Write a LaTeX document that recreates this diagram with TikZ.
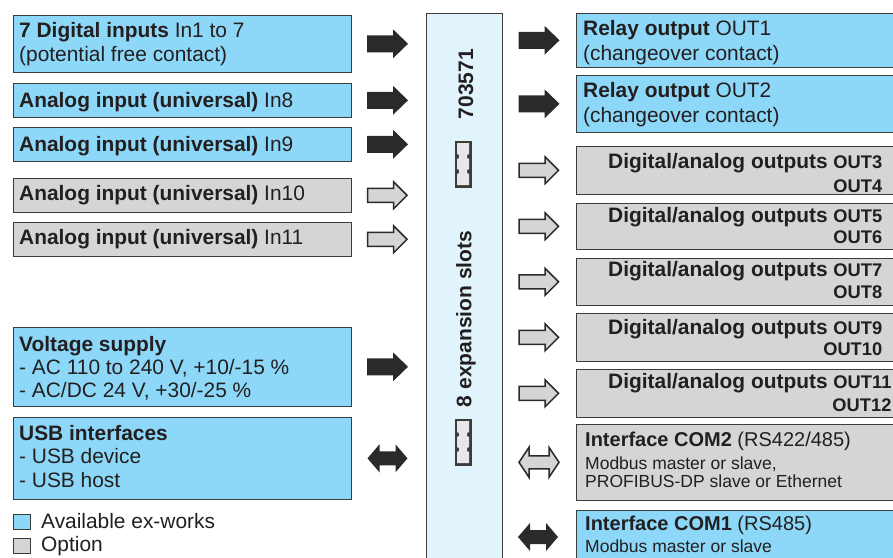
\documentclass[tikz,border=0pt]{standalone}
\usepackage{fontspec}
\setmainfont{Liberation Sans}
\usetikzlibrary{calc}
\definecolor{bluefill}{HTML}{8DD8F8}
\definecolor{grayfill}{HTML}{D3D5D6}
\definecolor{centfill}{HTML}{E1F4FC}
\definecolor{dark}{HTML}{2B2A29}
\definecolor{edge}{HTML}{3C3C3B}
\definecolor{txt}{HTML}{231F20}
\definecolor{slotfill}{HTML}{E6E7E8}
\newcommand{\smallfnt}{\fontsize{17.5}{20}\selectfont}
\newcommand{\outfnt}{\fontsize{18.3}{20}\selectfont\bfseries}
\begin{document}
\begin{tikzpicture}[x=1pt,y=-1pt,
  every node/.style={font=\fontsize{20.9}{23.5}\selectfont, text=txt},
  boxbase/.style={draw=edge, line width=1.6pt, anchor=north west, inner sep=0pt},
  bluebox/.style={boxbase, fill=bluefill},
  graybox/.style={boxbase, fill=grayfill},
  line/.style={anchor=base west, inner sep=0pt},
  rline/.style={anchor=base east, inner sep=0pt},
  solidarrow/.pic={\fill[dark] (-20.5,-8.5) -- (5.5,-8.5) -- (5.5,-14.5) -- (20.5,0) -- (5.5,14.5) -- (5.5,8.5) -- (-20.5,8.5) -- cycle;},
  grayarrow/.pic={\filldraw[fill=grayfill, draw=dark, line width=1.5pt, line join=miter] (-20,-7) -- (6,-7) -- (6,-13.5) -- (19.5,0) -- (6,13.5) -- (6,7) -- (-20,7) -- cycle;},
  soliddouble/.pic={\fill[dark] (-20,0) -- (-8,-14) -- (-8,-7) -- (8,-7) -- (8,-14) -- (20,0) -- (8,14) -- (8,7) -- (-8,7) -- (-8,14) -- cycle;},
  graydouble/.pic={\filldraw[fill=grayfill, draw=dark, line width=1.5pt, line join=miter] (-20,0) -- (-10,-15) -- (-10,-6.5) -- (10,-6.5) -- (10,-15) -- (20,0) -- (10,15) -- (10,6.5) -- (-10,6.5) -- (-10,15) -- cycle;},
  slot/.pic={\fill[edge] (-8.5,-23.5) rectangle (8.5,23.5);
    \fill[slotfill] (-6,-21) -- (6,-21) -- (6,-10) -- (4,-9) -- (4,-6) -- (6,-5) -- (6,5) -- (4,6) -- (4,9) -- (6,10) -- (6,21) -- (-6,21) -- (-6,10) -- (-4,9) -- (-4,6) -- (-6,5) -- (-6,-5) -- (-4,-6) -- (-4,-9) -- (-6,-10) -- cycle;}
]
\useasboundingbox (0,0) rectangle (893,557);

% central unit
\node[boxbase, fill=centfill, minimum width=76pt, minimum height=570pt] (unit) at (425.5,12.5) {};
\node[rotate=90, font=\fontsize{21}{24}\selectfont\bfseries] (type) at (466,84) {703571};
\node[rotate=90, font=\fontsize{21}{24}\selectfont\bfseries] (slots) at (466,319) {8 expansion slots};
\pic (slotA) at (463,164) {slot};
\pic (slotB) at (463,442) {slot};

% left boxes
\node[bluebox, minimum width=338pt, minimum height=57pt] (din) at (12.5,14.5) {};
\node[bluebox, minimum width=338pt, minimum height=34pt] (in8) at (12.5,82.5) {};
\node[bluebox, minimum width=338pt, minimum height=34pt] (in9) at (12.5,126.5) {};
\node[graybox, minimum width=338pt, minimum height=34pt] (in10) at (12.5,177.5) {};
\node[graybox, minimum width=338pt, minimum height=34pt] (in11) at (12.5,221.5) {};
\node[bluebox, minimum width=338pt, minimum height=79pt] (vs) at (12.5,326.5) {};
\node[bluebox, minimum width=338pt, minimum height=82pt] (usb) at (12.5,416.5) {};

\node[line] (dinA) at (19,37) {\textbf{7 Digital inputs} In1 to 7};
\node[line] (dinB) at (19,61) {(potential free contact)};
\node[line] (in8t) at (19,107) {\textbf{Analog input (universal)} In8};
\node[line] (in9t) at (19,151) {\textbf{Analog input (universal)} In9};
\node[line] (in10t) at (19,200) {\textbf{Analog input (universal)} In10};
\node[line] (in11t) at (19,244) {\textbf{Analog input (universal)} In11};
\node[line] (vsA) at (19,351) {\textbf{Voltage supply}};
\node[line] (vsB) at (19,374) {- AC 110 to 240 V, +10/-15 \%};
\node[line] (vsC) at (19,397) {- AC/DC 24 V, +30/-25 \%};
\node[line] (usbA) at (19,440) {\textbf{USB interfaces}};
\node[line] (usbB) at (19,463) {- USB device};
\node[line] (usbC) at (19,487) {- USB host};

% legend
\node[bluebox, minimum width=17pt, minimum height=15pt] (legA) at (12.5,513.5) {};
\node[graybox, minimum width=17pt, minimum height=15pt] (legB) at (12.5,537.5) {};
\node[line] (legAt) at (41,528) {Available ex-works};
\node[line] (legBt) at (41,551) {Option};

% right boxes
\node[bluebox, minimum width=330pt, minimum height=54pt] (out1) at (575.5,12.5) {};
\node[bluebox, minimum width=330pt, minimum height=57pt] (out2) at (575.5,74.5) {};
\node[graybox, minimum width=330pt, minimum height=48pt] (o34) at (575.5,145.5) {};
\node[graybox, minimum width=330pt, minimum height=46pt] (o56) at (575.5,202.5) {};
\node[graybox, minimum width=330pt, minimum height=47pt] (o78) at (575.5,257.5) {};
\node[graybox, minimum width=330pt, minimum height=48pt] (o910) at (575.5,312.5) {};
\node[graybox, minimum width=330pt, minimum height=48pt] (o1112) at (575.5,368.5) {};
\node[graybox, minimum width=330pt, minimum height=76pt] (com2) at (575.5,423.5) {};
\node[bluebox, minimum width=330pt, minimum height=60pt] (com1) at (575.5,509.5) {};

\node[line] (out1A) at (583,35) {\textbf{Relay output} OUT1};
\node[line] (out1B) at (583,60) {(changeover contact)};
\node[line] (out2A) at (583,97) {\textbf{Relay output} OUT2};
\node[line] (out2B) at (583,122) {(changeover contact)};

\node[line] (o34A) at (608,168) {\textbf{Digital/analog outputs} {\outfnt OUT3}};
\node[rline] (o34B) at (o34A.base east |- 0,192) {\outfnt OUT4};
\node[line] (o56A) at (608,222) {\textbf{Digital/analog outputs} {\outfnt OUT5}};
\node[rline] (o56B) at (o56A.base east |- 0,243) {\outfnt OUT6};
\node[line] (o78A) at (608,276) {\textbf{Digital/analog outputs} {\outfnt OUT7}};
\node[rline] (o78B) at (o78A.base east |- 0,298) {\outfnt OUT8};
\node[line] (o910A) at (608,334) {\textbf{Digital/analog outputs} {\outfnt OUT9}};
\node[rline] (o910B) at (o910A.base east |- 0,355) {\outfnt OUT10};
\node[line] (o1112A) at (608,388) {\textbf{Digital/analog outputs} {\outfnt OUT11}};
\node[rline] (o1112B) at (o1112A.base east |- 0,411) {\outfnt OUT12};

\node[line, font=\fontsize{20}{23}\selectfont] (com2A) at (585,446) {\textbf{Interface COM2} (RS422/485)};
\node[line] (com2B) at (585,469) {\smallfnt Modbus master or slave,};
\node[line] (com2C) at (585,487) {\smallfnt PROFIBUS-DP slave or Ethernet};
\node[line, font=\fontsize{20}{23}\selectfont] (com1A) at (585,530) {\textbf{Interface COM1} (RS485)};
\node[line] (com1B) at (585,552) {\smallfnt Modbus master or slave};

% arrows
\coordinate (lx) at (387.5,0);
\coordinate (rx) at (539,0);
\pic (aDin) at (din -| lx) {solidarrow};
\pic (aIn8) at (in8 -| lx) {solidarrow};
\pic (aIn9) at (in9 -| lx) {solidarrow};
\pic (aIn10) at (in10 -| lx) {grayarrow};
\pic (aIn11) at (in11 -| lx) {grayarrow};
\pic (aVs) at (vs -| lx) {solidarrow};
\pic (aUsb) at (usb -| lx) {soliddouble};
\pic (aOut1) at (out1 -| rx) {solidarrow};
\pic (aOut2) at (out2 -| rx) {solidarrow};
\pic (aO34) at (o34 -| rx) {grayarrow};
\pic (aO56) at (o56 -| rx) {grayarrow};
\pic (aO78) at (o78 -| rx) {grayarrow};
\pic (aO910) at (o910 -| rx) {grayarrow};
\pic (aO1112) at (o1112 -| rx) {grayarrow};
\pic (aCom2) at (com2 -| rx) {graydouble};
\pic (aCom1) at ($(rx)+(-1,537)$) {soliddouble};
\end{tikzpicture}
\end{document}
